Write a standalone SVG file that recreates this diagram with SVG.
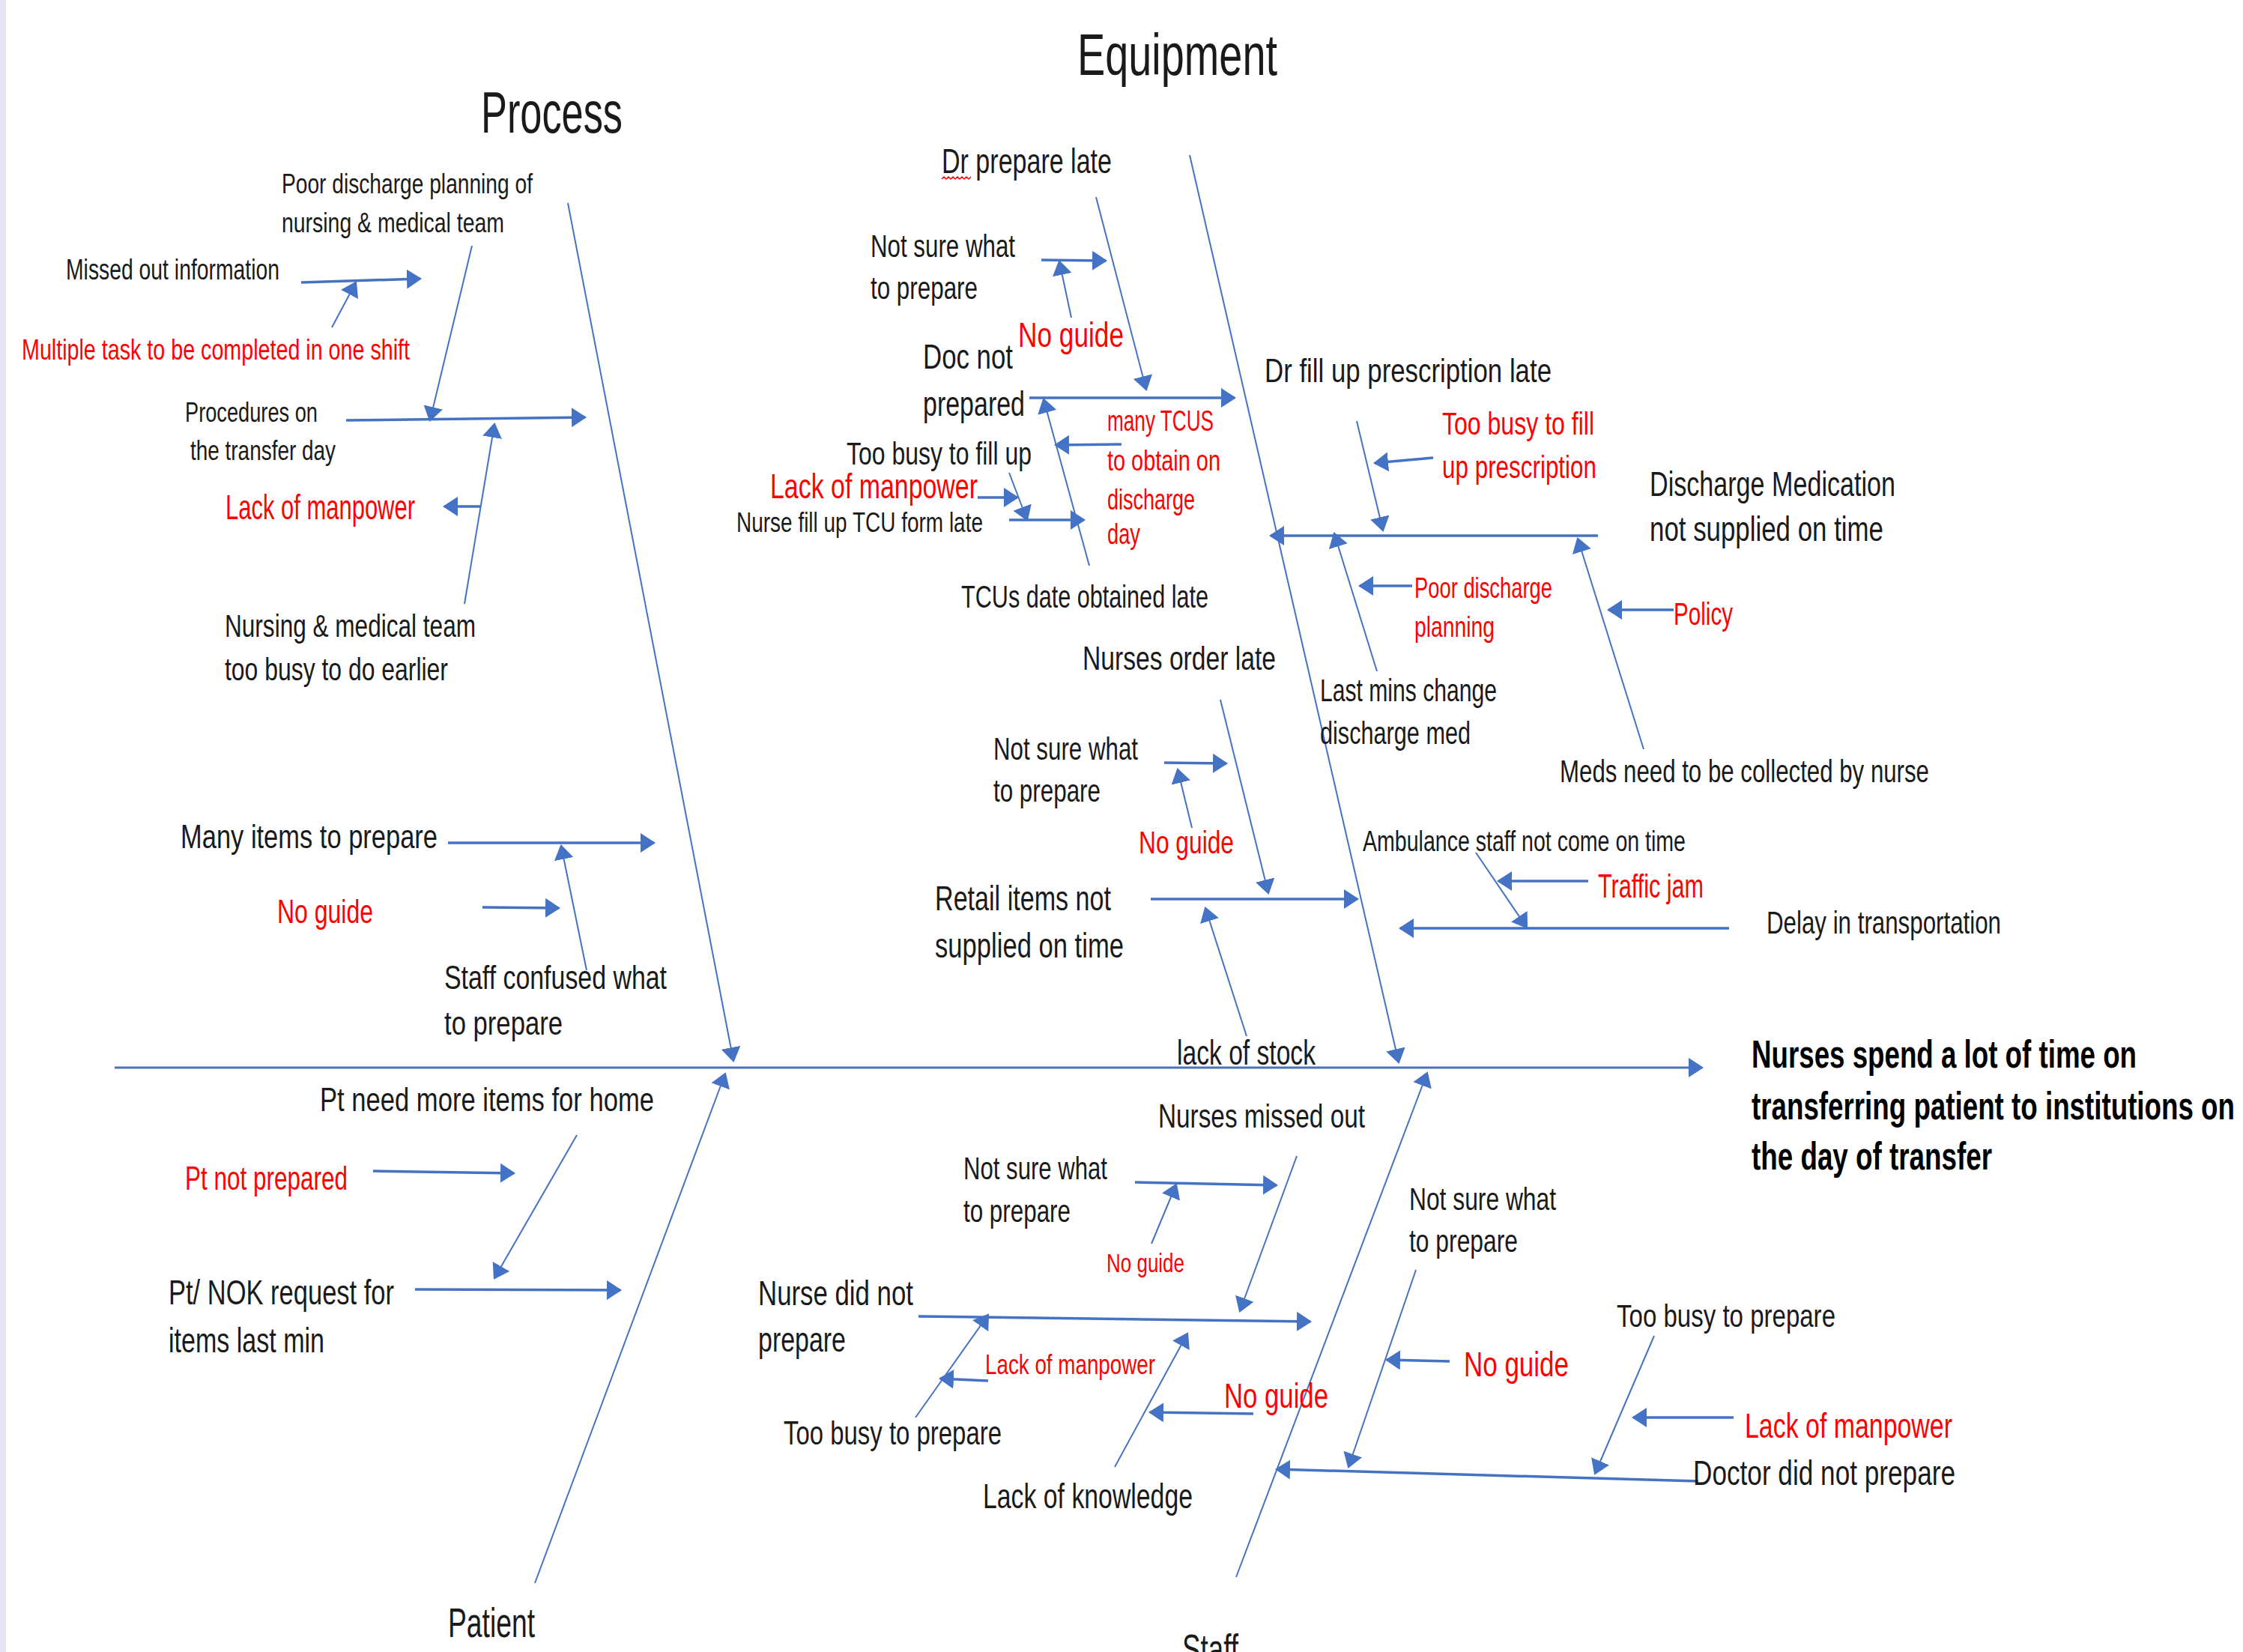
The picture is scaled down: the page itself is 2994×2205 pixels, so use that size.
<svg xmlns="http://www.w3.org/2000/svg" width="2994" height="2205" viewBox="0 0 2994 2205">
<defs>
<marker id="ah" viewBox="0 0 20 26" refX="18" refY="13" markerWidth="20" markerHeight="26" markerUnits="userSpaceOnUse" orient="auto"><path d="M0,0 L20,13 L0,26 z" fill="#4472C4"/></marker>
<style>
text{font-family:"Liberation Sans Narrow","Liberation Sans",Arial,sans-serif;fill:#1a1a1a}
.r{fill:#FF0000}
.e{font-weight:bold;fill:#000}
line{stroke:#4472C4;fill:none}
.sp{stroke-width:3;marker-end:url(#ah)}
.bn{stroke-width:2;marker-end:url(#ah)}
.t{stroke-width:2;marker-end:url(#ah)}
.k{stroke-width:3.5;marker-end:url(#ah)}
</style>
</defs>
<rect width="2994" height="2205" fill="#fff"/>
<rect x="0" y="0" width="8" height="2205" fill="#e4e4f4"/>

<g id="connectors">
<line class="sp" x1="153" y1="1425" x2="2272" y2="1425"/>
<line class="bn" x1="758" y1="271" x2="979" y2="1416"/>
<line class="bn" x1="1588" y1="207" x2="1867" y2="1418"/>
<line class="bn" x1="714" y1="2113" x2="968" y2="1433"/>
<line class="bn" x1="1650" y1="2105" x2="1905" y2="1432"/>
<!-- Process -->
<line class="t" x1="630" y1="328" x2="574" y2="561"/>
<line class="k" x1="402" y1="377" x2="561" y2="372"/>
<line class="t" x1="443" y1="437" x2="475" y2="377"/>
<line class="k" x1="462" y1="561" x2="781" y2="557"/>
<line class="k" x1="641" y1="676" x2="593" y2="676"/>
<line class="t" x1="620" y1="806" x2="660" y2="566"/>
<line class="k" x1="598" y1="1125" x2="873" y2="1125"/>
<line class="k" x1="644" y1="1211" x2="746" y2="1212"/>
<line class="t" x1="783" y1="1295" x2="749" y2="1129"/>
<!-- Patient -->
<line class="t" x1="770" y1="1515" x2="660" y2="1706"/>
<line class="k" x1="498" y1="1563" x2="686" y2="1566"/>
<line class="k" x1="554" y1="1721" x2="828" y2="1722"/>
<!-- Equipment -->
<line class="t" x1="1463" y1="263" x2="1530" y2="520"/>
<line class="k" x1="1390" y1="347" x2="1476" y2="348"/>
<line class="t" x1="1430" y1="424" x2="1414" y2="349"/>
<line class="k" x1="1374" y1="531" x2="1648" y2="531"/>
<line class="k" x1="1305" y1="664" x2="1358" y2="664"/>
<line class="t" x1="1347" y1="631" x2="1371" y2="694"/>
<line class="k" x1="1347" y1="694" x2="1447" y2="694"/>
<line class="t" x1="1454" y1="755" x2="1393" y2="533"/>
<line class="k" x1="1497" y1="593" x2="1409" y2="594"/>
<line class="t" x1="1811" y1="562" x2="1846" y2="708"/>
<line class="k" x1="1913" y1="611" x2="1835" y2="618"/>
<line class="k" x1="2133" y1="715" x2="1696" y2="715"/>
<line class="k" x1="1885" y1="782" x2="1815" y2="782"/>
<line class="t" x1="1838" y1="896" x2="1781" y2="712"/>
<line class="k" x1="2234" y1="814" x2="2147" y2="814"/>
<line class="t" x1="2194" y1="1000" x2="2106" y2="719"/>
<line class="t" x1="1629" y1="934" x2="1693" y2="1192"/>
<line class="k" x1="1554" y1="1018" x2="1637" y2="1019"/>
<line class="t" x1="1591" y1="1105" x2="1572" y2="1027"/>
<line class="k" x1="1536" y1="1200" x2="1812" y2="1200"/>
<line class="t" x1="1664" y1="1383" x2="1609" y2="1212"/>
<line class="t" x1="1970" y1="1138" x2="2038" y2="1238"/>
<line class="k" x1="2120" y1="1176" x2="2000" y2="1176"/>
<line class="k" x1="2308" y1="1239" x2="1869" y2="1239"/>
<!-- Staff -->
<line class="t" x1="1731" y1="1543" x2="1655" y2="1750"/>
<line class="k" x1="1515" y1="1578" x2="1704" y2="1582"/>
<line class="t" x1="1537" y1="1660" x2="1570" y2="1581"/>
<line class="k" x1="1226" y1="1757" x2="1749" y2="1764"/>
<line class="k" x1="1319" y1="1843" x2="1255" y2="1840"/>
<line class="t" x1="1222" y1="1892" x2="1319" y2="1755"/>
<line class="k" x1="1673" y1="1887" x2="1535" y2="1885"/>
<line class="t" x1="1488" y1="1958" x2="1585" y2="1780"/>
<line class="t" x1="1890" y1="1695" x2="1800" y2="1958"/>
<line class="k" x1="1935" y1="1817" x2="1851" y2="1815"/>
<line class="t" x1="2208" y1="1783" x2="2129" y2="1967"/>
<line class="k" x1="2314" y1="1892" x2="2180" y2="1892"/>
<line class="k" x1="2267" y1="1977" x2="1704" y2="1961"/>
</g>

<g id="title-process"><text x="642" y="177" font-size="78" textLength="189" lengthAdjust="spacingAndGlyphs">Process</text></g>
<g id="title-equipment"><text x="1438" y="100" font-size="78" textLength="267" lengthAdjust="spacingAndGlyphs">Equipment</text></g>
<g id="title-patient"><text x="598" y="2185" font-size="56" textLength="116" lengthAdjust="spacingAndGlyphs">Patient</text></g>
<g id="title-staff"><text x="1578" y="2220" font-size="56" textLength="75" lengthAdjust="spacingAndGlyphs">Staff</text></g>

<g id="effect">
<text class="e" x="2338" y="1425" font-size="52" textLength="514" lengthAdjust="spacingAndGlyphs">Nurses spend a lot of time on</text>
<text class="e" x="2338" y="1494" font-size="52" textLength="645" lengthAdjust="spacingAndGlyphs">transferring patient to institutions on</text>
<text class="e" x="2338" y="1561" font-size="52" textLength="321" lengthAdjust="spacingAndGlyphs">the day of transfer</text>
</g>

<!-- Process nodes -->
<g id="n-poor-discharge">
<text x="376" y="258" font-size="37" textLength="335" lengthAdjust="spacingAndGlyphs">Poor discharge planning of</text>
<text x="376" y="310" font-size="37" textLength="297" lengthAdjust="spacingAndGlyphs">nursing &amp; medical team</text>
</g>
<g id="n-missed-info"><text x="88" y="373" font-size="38" textLength="285" lengthAdjust="spacingAndGlyphs">Missed out information</text></g>
<g id="n-multiple-task"><text class="r" x="29" y="480" font-size="38" textLength="518" lengthAdjust="spacingAndGlyphs">Multiple task to be completed in one shift</text></g>
<g id="n-procedures">
<text x="247" y="563" font-size="37" textLength="177" lengthAdjust="spacingAndGlyphs">Procedures on</text>
<text x="254" y="614" font-size="37" textLength="194" lengthAdjust="spacingAndGlyphs">the transfer day</text>
</g>
<g id="n-lack-manpower-1"><text class="r" x="301" y="693" font-size="46" textLength="253" lengthAdjust="spacingAndGlyphs">Lack of manpower</text></g>
<g id="n-team-busy">
<text x="300" y="850" font-size="43" textLength="335" lengthAdjust="spacingAndGlyphs">Nursing &amp; medical team</text>
<text x="300" y="908" font-size="43" textLength="298" lengthAdjust="spacingAndGlyphs">too busy to do earlier</text>
</g>
<g id="n-many-items"><text x="241" y="1132" font-size="44" textLength="343" lengthAdjust="spacingAndGlyphs">Many items to prepare</text></g>
<g id="n-no-guide-1"><text class="r" x="370" y="1232" font-size="45" textLength="128" lengthAdjust="spacingAndGlyphs">No guide</text></g>
<g id="n-staff-confused">
<text x="593" y="1320" font-size="45" textLength="297" lengthAdjust="spacingAndGlyphs">Staff confused what</text>
<text x="593" y="1381" font-size="45" textLength="158" lengthAdjust="spacingAndGlyphs">to prepare</text>
</g>

<!-- Patient nodes -->
<g id="n-pt-need"><text x="427" y="1483" font-size="45" textLength="446" lengthAdjust="spacingAndGlyphs">Pt need more items for home</text></g>
<g id="n-pt-not-prepared"><text class="r" x="247" y="1588" font-size="45" textLength="217" lengthAdjust="spacingAndGlyphs">Pt not prepared</text></g>
<g id="n-pt-nok">
<text x="225" y="1741" font-size="46" textLength="301" lengthAdjust="spacingAndGlyphs">Pt/ NOK request for</text>
<text x="225" y="1805" font-size="46" textLength="208" lengthAdjust="spacingAndGlyphs">items last min</text>
</g>

<!-- Equipment nodes -->
<g id="n-dr-prepare-late">
<text x="1257" y="231" font-size="46" textLength="227" lengthAdjust="spacingAndGlyphs">Dr prepare late</text>
<path d="M1257,239 l3,-3 l3,3 l3,-3 l3,3 l3,-3 l3,3 l3,-3 l3,3 l3,-3 l3,3 l3,-3 l3,3 l3,-3" stroke="#FF0000" stroke-width="1.5" fill="none"/>
</g>
<g id="n-not-sure-1">
<text x="1162" y="343" font-size="43" textLength="193" lengthAdjust="spacingAndGlyphs">Not sure what</text>
<text x="1162" y="399" font-size="43" textLength="143" lengthAdjust="spacingAndGlyphs">to prepare</text>
</g>
<g id="n-no-guide-2"><text class="r" x="1359" y="463" font-size="47" textLength="141" lengthAdjust="spacingAndGlyphs">No guide</text></g>
<g id="n-doc-not-prepared">
<text x="1232" y="492" font-size="46" textLength="120" lengthAdjust="spacingAndGlyphs">Doc not</text>
<text x="1232" y="555" font-size="46" textLength="136" lengthAdjust="spacingAndGlyphs">prepared</text>
</g>
<g id="n-too-busy-fill"><text x="1130" y="620" font-size="43" textLength="247" lengthAdjust="spacingAndGlyphs">Too busy to fill up</text></g>
<g id="n-lack-manpower-2"><text class="r" x="1028" y="665" font-size="46" textLength="277" lengthAdjust="spacingAndGlyphs">Lack of manpower</text></g>
<g id="n-nurse-fill-tcu"><text x="983" y="710" font-size="37" textLength="329" lengthAdjust="spacingAndGlyphs">Nurse fill up TCU form late</text></g>
<g id="n-tcus-late"><text x="1283" y="811" font-size="42" textLength="330" lengthAdjust="spacingAndGlyphs">TCUs date obtained late</text></g>
<g id="n-many-tcus">
<text class="r" x="1478" y="575" font-size="38" textLength="142" lengthAdjust="spacingAndGlyphs">many TCUS</text>
<text class="r" x="1478" y="628" font-size="38" textLength="151" lengthAdjust="spacingAndGlyphs">to obtain on</text>
<text class="r" x="1478" y="680" font-size="38" textLength="117" lengthAdjust="spacingAndGlyphs">discharge</text>
<text class="r" x="1478" y="726" font-size="38" textLength="44" lengthAdjust="spacingAndGlyphs">day</text>
</g>
<g id="n-dr-fill-presc"><text x="1688" y="510" font-size="44" textLength="383" lengthAdjust="spacingAndGlyphs">Dr fill up prescription late</text></g>
<g id="n-too-busy-presc">
<text class="r" x="1925" y="580" font-size="43" textLength="203" lengthAdjust="spacingAndGlyphs">Too busy to fill</text>
<text class="r" x="1925" y="638" font-size="43" textLength="206" lengthAdjust="spacingAndGlyphs">up prescription</text>
</g>
<g id="n-discharge-med">
<text x="2202" y="662" font-size="46" textLength="328" lengthAdjust="spacingAndGlyphs">Discharge Medication</text>
<text x="2202" y="722" font-size="46" textLength="312" lengthAdjust="spacingAndGlyphs">not supplied on time</text>
</g>
<g id="n-poor-discharge-2">
<text class="r" x="1888" y="798" font-size="39" textLength="184" lengthAdjust="spacingAndGlyphs">Poor discharge</text>
<text class="r" x="1888" y="850" font-size="39" textLength="107" lengthAdjust="spacingAndGlyphs">planning</text>
</g>
<g id="n-last-mins">
<text x="1762" y="936" font-size="42" textLength="236" lengthAdjust="spacingAndGlyphs">Last mins change</text>
<text x="1762" y="993" font-size="42" textLength="201" lengthAdjust="spacingAndGlyphs">discharge med</text>
</g>
<g id="n-policy"><text class="r" x="2234" y="834" font-size="43" textLength="79" lengthAdjust="spacingAndGlyphs">Policy</text></g>
<g id="n-meds-collected"><text x="2082" y="1044" font-size="42" textLength="493" lengthAdjust="spacingAndGlyphs">Meds need to be collected by nurse</text></g>
<g id="n-nurses-order-late"><text x="1445" y="894" font-size="44" textLength="258" lengthAdjust="spacingAndGlyphs">Nurses order late</text></g>
<g id="n-not-sure-2">
<text x="1326" y="1014" font-size="43" textLength="193" lengthAdjust="spacingAndGlyphs">Not sure what</text>
<text x="1326" y="1070" font-size="43" textLength="143" lengthAdjust="spacingAndGlyphs">to prepare</text>
</g>
<g id="n-no-guide-3"><text class="r" x="1520" y="1139" font-size="43" textLength="127" lengthAdjust="spacingAndGlyphs">No guide</text></g>
<g id="n-retail-items">
<text x="1248" y="1215" font-size="46" textLength="235" lengthAdjust="spacingAndGlyphs">Retail items not</text>
<text x="1248" y="1278" font-size="46" textLength="252" lengthAdjust="spacingAndGlyphs">supplied on time</text>
</g>
<g id="n-lack-stock"><text x="1571" y="1421" font-size="46" textLength="185" lengthAdjust="spacingAndGlyphs">lack of stock</text></g>
<g id="n-ambulance"><text x="1819" y="1136" font-size="38" textLength="431" lengthAdjust="spacingAndGlyphs">Ambulance staff not come on time</text></g>
<g id="n-traffic"><text class="r" x="2133" y="1198" font-size="44" textLength="141" lengthAdjust="spacingAndGlyphs">Traffic jam</text></g>
<g id="n-delay-transport"><text x="2358" y="1246" font-size="42" textLength="313" lengthAdjust="spacingAndGlyphs">Delay in transportation</text></g>

<!-- Staff nodes -->
<g id="n-nurses-missed"><text x="1546" y="1505" font-size="44" textLength="276" lengthAdjust="spacingAndGlyphs">Nurses missed out</text></g>
<g id="n-not-sure-3">
<text x="1286" y="1574" font-size="43" textLength="192" lengthAdjust="spacingAndGlyphs">Not sure what</text>
<text x="1286" y="1631" font-size="43" textLength="143" lengthAdjust="spacingAndGlyphs">to prepare</text>
</g>
<g id="n-no-guide-4"><text class="r" x="1477" y="1698" font-size="35" textLength="104" lengthAdjust="spacingAndGlyphs">No guide</text></g>
<g id="n-nurse-did-not">
<text x="1012" y="1742" font-size="46" textLength="207" lengthAdjust="spacingAndGlyphs">Nurse did not</text>
<text x="1012" y="1804" font-size="46" textLength="117" lengthAdjust="spacingAndGlyphs">prepare</text>
</g>
<g id="n-lack-manpower-3"><text class="r" x="1315" y="1834" font-size="37" textLength="227" lengthAdjust="spacingAndGlyphs">Lack of manpower</text></g>
<g id="n-too-busy-prep-1"><text x="1046" y="1928" font-size="44" textLength="291" lengthAdjust="spacingAndGlyphs">Too busy to prepare</text></g>
<g id="n-no-guide-5"><text class="r" x="1634" y="1879" font-size="46" textLength="139" lengthAdjust="spacingAndGlyphs">No guide</text></g>
<g id="n-lack-knowledge"><text x="1312" y="2013" font-size="46" textLength="280" lengthAdjust="spacingAndGlyphs">Lack of knowledge</text></g>
<g id="n-not-sure-4">
<text x="1881" y="1615" font-size="43" textLength="196" lengthAdjust="spacingAndGlyphs">Not sure what</text>
<text x="1881" y="1671" font-size="43" textLength="145" lengthAdjust="spacingAndGlyphs">to prepare</text>
</g>
<g id="n-no-guide-6"><text class="r" x="1954" y="1837" font-size="46" textLength="140" lengthAdjust="spacingAndGlyphs">No guide</text></g>
<g id="n-too-busy-prep-2"><text x="2158" y="1771" font-size="42" textLength="292" lengthAdjust="spacingAndGlyphs">Too busy to prepare</text></g>
<g id="n-lack-manpower-4"><text class="r" x="2329" y="1919" font-size="46" textLength="277" lengthAdjust="spacingAndGlyphs">Lack of manpower</text></g>
<g id="n-doctor-did-not"><text x="2260" y="1982" font-size="46" textLength="350" lengthAdjust="spacingAndGlyphs">Doctor did not prepare</text></g>
</svg>
